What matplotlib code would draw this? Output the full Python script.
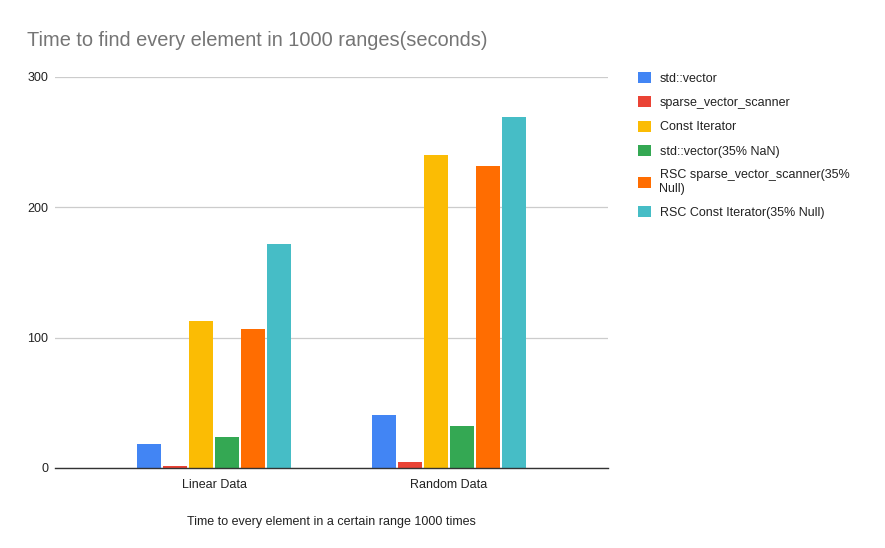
import numpy as np
import matplotlib
matplotlib.use("Agg")
import matplotlib.pyplot as plt

plt.rcParams['font.family'] = ['Liberation Sans', 'DejaVu Sans']

categories = ['Linear Data', 'Random Data']
series_names = ['std::vector', 'sparse_vector_scanner', 'Const Iterator',
                'std::vector(35% NaN)', 'RSC sparse_vector_scanner(35%\nNull)',
                'RSC Const Iterator(35% Null)']
std_vector = [18.1, 40.9]
sparse_scanner = [1.6, 4.8]
const_iter = [112.7, 240.0]
std_vector_nan = [23.7, 32.5]
rsc_sparse = [106.3, 231.5]
rsc_const = [171.9, 269.0]
yticks = [0, 100, 200, 300]

colors = ['#4285F4', '#EA4335', '#FBBC04', '#34A853', '#FF6D01', '#46BDC6']
values = [std_vector, sparse_scanner, const_iter, std_vector_nan, rsc_sparse, rsc_const]

fig = plt.figure(figsize=(8.85, 5.48), dpi=100)
ax = fig.add_axes([55/885, 1-468/548, (608-55)/885, (468-77)/548])

x = np.arange(len(categories))
slot = 0.1106
bw = 0.102
for i, (vals, c, name) in enumerate(zip(values, colors, series_names)):
    ax.bar(x + (i - 2.5) * slot, vals, width=bw, color=c, label=name, zorder=3)

ax.set_xlim(-0.677, 1.677)
ax.set_ylim(0, 300)
ax.set_yticks(yticks)
ax.set_xticks(x)
ax.set_xticklabels(categories)
ax.tick_params(length=0, labelsize=9, colors='#222222')
ax.tick_params(axis='y', pad=5)
ax.tick_params(axis='x', pad=8)
ax.grid(axis='y', color='#cccccc', linewidth=0.9, zorder=0)
for s in ['top', 'right', 'left']:
    ax.spines[s].set_visible(False)
ax.spines['bottom'].set_color('#333333')
ax.spines['bottom'].set_linewidth(1.0)
ax.spines['bottom'].set_zorder(4)
ax.set_xlabel('Time to every element in a certain range 1000 times', fontsize=9,
              color='#222222', labelpad=18)

fig.text(27/885, 1-40/548, 'Time to find every element in 1000 ranges(seconds)',
         fontsize=14.4, color='#757575', va='center', ha='left')

leg = fig.legend(loc='upper left', bbox_to_anchor=(633/885, 1-67/548), frameon=False,
                 fontsize=9, handlelength=1.0, handleheight=1.0, handletextpad=0.72,
                 labelspacing=0.91, borderaxespad=0)
for t in leg.get_texts():
    t.set_color('#222222')

fig.savefig('out.png', dpi=100)
